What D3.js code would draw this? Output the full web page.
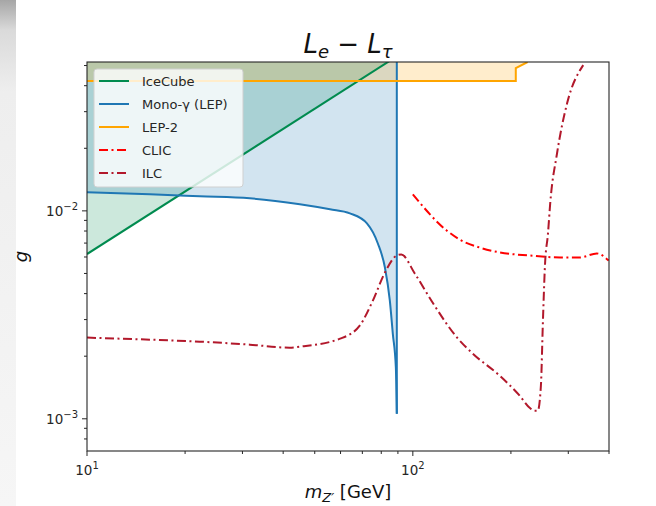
<!DOCTYPE html>
<html>
<head>
  <style>
    body { margin: 0; background: #fff; }
    text { font-family: "DejaVu Sans", sans-serif; }
  </style>
</head>
<body>
  <script src="https://d3js.org/d3.v7.min.js"></script>
  <svg id="chart"></svg>
  <script>
    // data: [mass GeV, coupling g]
    var iceCube = [[10, 0.0062], [100, 0.062]];
    var monoGamma = [[10, 0.01228], [15.6, 0.01201], [22.2, 0.01175], [31.6, 0.01149], [45.0, 0.01075],
      [55.7, 0.01017], [64.1, 0.00973], [72.3, 0.00871], [78.1, 0.00697], [82.1, 0.00534],
      [85.0, 0.00370], [86.8, 0.00257], [88.7, 0.00176], [89.3, 0.001057]];
    var monoGammaEdge = 89.3; // vertical edge of the mono-photon region
    var lep2 = [[10, 0.0421], [207, 0.0421], [207, 0.0486], [225, 0.052]];
    var clic = [[100, 0.0120], [127, 0.00805], [139, 0.00729], [160, 0.00667], [185, 0.00631],
      [228, 0.00610], [283, 0.00597], [326, 0.00597], [367, 0.00624], [399, 0.00577]];
    var ilc = [[10, 0.002457], [15.6, 0.002402], [22.2, 0.002350], [31.6, 0.002273], [41.9, 0.002199],
      [45.0, 0.002223], [59.8, 0.002429], [68.7, 0.002807], [75.4, 0.003703], [82.1, 0.005053],
      [89.3, 0.006103], [92.2, 0.006172], [101.4, 0.004995], [115.5, 0.003582], [136.7, 0.002457],
      [152.8, 0.002057], [184.8, 0.001611], [212.8, 0.001291], [228.3, 0.001130], [236.5, 0.001093],
      [241.8, 0.001093], [247.2, 0.001442], [250.8, 0.002967], [254.4, 0.005461], [259.9, 0.007788],
      [264, 0.01087], [277.1, 0.01893], [297.6, 0.03298], [333.4, 0.05025]];

    var xTicks = [10, 100];
    var yTicks = [0.001, 0.01];
    var legendNames = ["IceCube", "Mono-\u03b3 (LEP)", "LEP-2", "CLIC", "ILC"];
    var legendColors = ["#008b4f", "#1f77b4", "#ffa500", "#ff0000", "#b2182b"];
    var legendDash = [null, null, null, "9,3.5,2,3.5", "9,3.5,2,3.5"];

    var width = 656, height = 506;
    var pLeft = 87, pRight = 609, pTop = 62, pBottom = 451;

    var svg = d3.select('#chart').attr('width', width).attr('height', height);

    // grey strip on the left edge of the screenshot
    var defs = svg.append('defs');
    var grad = defs.append('linearGradient').attr('id', 'strip')
      .attr('x1', 0).attr('y1', 0).attr('x2', 0).attr('y2', 1);
    grad.append('stop').attr('offset', '0%').attr('stop-color', '#a6a6a6');
    grad.append('stop').attr('offset', '6%').attr('stop-color', '#dadada');
    grad.append('stop').attr('offset', '18%').attr('stop-color', '#eeeeee');
    grad.append('stop').attr('offset', '100%').attr('stop-color', '#f6f6f6');
    svg.append('rect').attr('x', 0).attr('y', 0).attr('width', 16).attr('height', height)
      .attr('fill', 'url(#strip)');

    defs.append('clipPath').attr('id', 'plotClip').append('rect')
      .attr('x', pLeft).attr('y', pTop).attr('width', pRight - pLeft).attr('height', pBottom - pTop);

    var x = d3.scaleLog().domain([10, 400]).range([pLeft, pRight]);
    var y = d3.scaleLog().domain([7e-4, 0.052]).range([pBottom, pTop]);

    var plot = svg.append('g').attr('clip-path', 'url(#plotClip)');

    var line = d3.line().x(function(d) { return x(d[0]); }).y(function(d) { return y(d[1]); });
    var smooth = d3.line().curve(d3.curveMonotoneX)
      .x(function(d) { return x(d[0]); }).y(function(d) { return y(d[1]); });
    var areaUp = d3.area().x(function(d) { return x(d[0]); })
      .y0(pTop - 50).y1(function(d) { return y(d[1]); });

    // shaded excluded regions
    plot.append('path').datum(iceCube).attr('d', areaUp).attr('fill', legendColors[0]).attr('fill-opacity', 0.2);
    plot.append('path').datum(monoGamma).attr('d', areaUp.curve(d3.curveMonotoneX))
      .attr('fill', legendColors[1]).attr('fill-opacity', 0.2);
    plot.append('path').datum(lep2).attr('d', areaUp.curve(d3.curveLinear))
      .attr('fill', legendColors[2]).attr('fill-opacity', 0.2);

    // curves
    function drawLine(data, gen, i) {
      plot.append('path').datum(data).attr('d', gen)
        .attr('fill', 'none')
        .attr('stroke', legendColors[i])
        .attr('stroke-width', 2)
        .attr('stroke-dasharray', legendDash[i]);
    }
    drawLine(iceCube, line, 0);
    drawLine(monoGamma, smooth, 1);
    drawLine([monoGamma[monoGamma.length - 1], [monoGammaEdge, 0.06]], line, 1);
    drawLine(lep2, line, 2);
    drawLine(clic, smooth, 3);
    drawLine(ilc, smooth, 4);

    // frame
    svg.append('rect').attr('x', pLeft).attr('y', pTop).attr('width', pRight - pLeft).attr('height', pBottom - pTop)
      .attr('fill', 'none').attr('stroke', '#262626').attr('stroke-width', 1.1);

    // ticks
    var xMinor = [20, 30, 40, 50, 60, 70, 80, 90, 200, 300, 400];
    var axes = svg.append('g').attr('stroke', '#262626');
    xTicks.forEach(function(t) {
      axes.append('line').attr('x1', x(t)).attr('x2', x(t)).attr('y1', pBottom).attr('y2', pBottom + 5);
    });
    xMinor.forEach(function(t) {
      axes.append('line').attr('x1', x(t)).attr('x2', x(t)).attr('y1', pBottom).attr('y2', pBottom + 3);
    });
    var yMinor = [8e-4, 9e-4, 0.002, 0.003, 0.004, 0.005, 0.006, 0.007, 0.008, 0.009, 0.02, 0.03, 0.04, 0.05];
    yTicks.forEach(function(t) {
      axes.append('line').attr('y1', y(t)).attr('y2', y(t)).attr('x1', pLeft).attr('x2', pLeft - 5);
    });
    yMinor.forEach(function(t) {
      axes.append('line').attr('y1', y(t)).attr('y2', y(t)).attr('x1', pLeft).attr('x2', pLeft - 3);
    });

    // tick labels with superscript exponents
    function powLabel(g, exp) {
      g.append('tspan').text('10');
      g.append('tspan').attr('dy', -6).attr('font-size', 10).text(exp);
    }
    xTicks.forEach(function(t) {
      var tx = svg.append('text').attr('x', x(t)).attr('y', pBottom + 24)
        .attr('text-anchor', 'middle').attr('font-size', 13.5).attr('fill', '#262626');
      powLabel(tx, String(Math.round(Math.log10(t))));
    });
    yTicks.forEach(function(t) {
      var ty = svg.append('text').attr('x', pLeft - 9).attr('y', y(t) + 5)
        .attr('text-anchor', 'end').attr('font-size', 13.5).attr('fill', '#262626');
      powLabel(ty, '\u2212' + Math.abs(Math.round(Math.log10(t))));
    });

    // title
    var title = svg.append('text').attr('x', (pLeft + pRight) / 2).attr('y', 53)
      .attr('text-anchor', 'middle').attr('font-size', 26).attr('fill', '#111');
    title.append('tspan').attr('font-style', 'italic').text('L');
    title.append('tspan').attr('font-style', 'italic').attr('font-size', 18).attr('dy', 5).text('e');
    title.append('tspan').attr('dy', -5).text(' \u2212 ');
    title.append('tspan').attr('font-style', 'italic').text('L');
    title.append('tspan').attr('font-style', 'italic').attr('font-size', 18).attr('dy', 5).text('\u03c4');

    // axis labels
    var xl = svg.append('text').attr('x', (pLeft + pRight) / 2).attr('y', 498)
      .attr('text-anchor', 'middle').attr('font-size', 18).attr('fill', '#111');
    xl.append('tspan').attr('font-style', 'italic').text('m');
    xl.append('tspan').attr('font-style', 'italic').attr('font-size', 13).attr('dy', 4).text('Z\u2032');
    xl.append('tspan').attr('dy', -4).text(' [GeV]');

    svg.append('text').attr('transform', 'translate(27,' + ((pTop + pBottom) / 2) + ') rotate(-90)')
      .attr('text-anchor', 'middle').attr('font-size', 18).attr('font-style', 'italic')
      .attr('fill', '#111').text('g');

    // legend
    var lg = svg.append('g');
    lg.append('rect').attr('x', 94).attr('y', 69).attr('width', 149).attr('height', 118).attr('rx', 3)
      .attr('fill', '#fff').attr('fill-opacity', 0.8).attr('stroke', '#d0d0d0');
    legendNames.forEach(function(n, i) {
      var ly = 81 + i * 23;
      lg.append('line').attr('x1', 99).attr('x2', 129).attr('y1', ly).attr('y2', ly)
        .attr('stroke', legendColors[i]).attr('stroke-width', 2)
        .attr('stroke-dasharray', legendDash[i]);
      lg.append('text').attr('x', 142).attr('y', ly + 5).attr('font-size', 13)
        .attr('fill', '#262626').text(n);
    });
  </script>
</body>
</html>
